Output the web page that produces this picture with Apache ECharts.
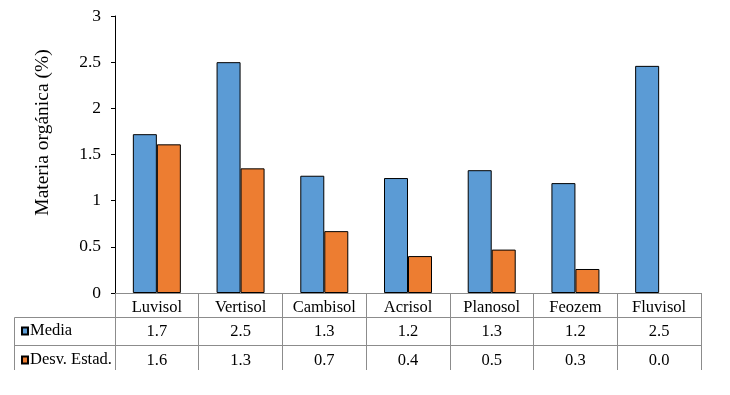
<!DOCTYPE html>
<html>
<head>
<meta charset="utf-8">
<script src="https://cdn.jsdelivr.net/npm/echarts@6/dist/echarts.min.js"></script>
<style>
html,body{margin:0;padding:0;background:#fff;}
#chart{width:730px;height:395px;}
</style>
</head>
<body>
<div id="chart"></div>
<script>
const categories = ['Luvisol', 'Vertisol', 'Cambisol', 'Acrisol', 'Planosol', 'Feozem', 'Fluvisol'];
const media = [1.72, 2.50, 1.27, 1.245, 1.33, 1.19, 2.46];
const desv = [1.61, 1.35, 0.67, 0.40, 0.47, 0.26, 0];
const mediaLabels = ['1.7', '2.5', '1.3', '1.2', '1.3', '1.2', '2.5'];
const desvLabels = ['1.6', '1.3', '0.7', '0.4', '0.5', '0.3', '0.0'];
const seriesNames = ['Media', 'Desv. Estad.'];
const yTitle = 'Materia orgánica (%)';

const FONT = '"Liberation Serif", "Times New Roman", serif';
const GRID = { left: 115, right: 29, top: 16, bottom: 102 };
const W = 730, H = 395;
const axisY = H - GRID.bottom;
const axisR = W - GRID.right;
const tableBottom = axisY + 77;
const tableLeft = 14.5;
const rowLines = [axisY + 24.5, axisY + 52.5];
const GREY = '#8c8c8c';

const chart = echarts.init(document.getElementById('chart'), null, { renderer: 'canvas' });

const labelStyle = { color: '#000', fontFamily: FONT, fontSize: 16.5 };

const lines = rowLines.map(y => ({
  type: 'line',
  shape: { x1: tableLeft, y1: y, x2: axisR + 0.5, y2: y },
  style: { stroke: GREY, lineWidth: 1 },
  silent: true
}));
lines.push({
  type: 'line',
  shape: { x1: tableLeft, y1: rowLines[0], x2: tableLeft, y2: tableBottom },
  style: { stroke: GREY, lineWidth: 1 },
  silent: true
});

chart.setOption({
  animation: false,
  backgroundColor: '#fff',
  grid: GRID,
  legend: {
    data: seriesNames,
    orient: 'vertical',
    left: 21,
    top: 322,
    padding: 0,
    itemWidth: 6,
    itemHeight: 7,
    itemGap: 11,
    icon: 'rect',
    selectedMode: false,
    textStyle: Object.assign({ lineHeight: 18, padding: [0, 0, 0, -3] }, labelStyle)
  },
  xAxis: [
    {
      type: 'category',
      data: categories,
      position: 'bottom',
      axisLine: { lineStyle: { color: GREY, width: 1 } },
      axisTick: { show: true, length: 77, interval: 0, lineStyle: { color: GREY, width: 1 } },
      axisLabel: Object.assign({ margin: 6, interval: 0 }, labelStyle),
      splitLine: { show: false }
    },
    {
      type: 'category',
      data: mediaLabels,
      position: 'bottom',
      offset: 24,
      axisLine: { show: false },
      axisTick: { show: false },
      axisLabel: Object.assign({ margin: 6, interval: 0 }, labelStyle)
    },
    {
      type: 'category',
      data: desvLabels,
      position: 'bottom',
      offset: 53,
      axisLine: { show: false },
      axisTick: { show: false },
      axisLabel: Object.assign({ margin: 6, interval: 0 }, labelStyle)
    }
  ],
  yAxis: {
    type: 'value',
    min: 0,
    max: 3,
    interval: 0.5,
    name: yTitle,
    nameLocation: 'middle',
    nameGap: 62,
    nameRotate: 90,
    nameTextStyle: { color: '#000', fontFamily: FONT, fontSize: 19.5, padding: [0, 0, 0, 44] },
    axisLine: { show: true, lineStyle: { color: '#000', width: 1 } },
    axisTick: { show: true, length: 4, lineStyle: { color: '#000', width: 1 } },
    axisLabel: Object.assign({ margin: 14 }, labelStyle, { fontSize: 17.5 }),
    splitLine: { show: false }
  },
  series: [
    {
      name: seriesNames[0],
      type: 'bar',
      xAxisIndex: 0,
      data: media,
      barWidth: 24,
      barGap: '0%',
      itemStyle: { color: '#5B9BD5', borderColor: '#000', borderWidth: 1 }
    },
    {
      name: seriesNames[1],
      type: 'bar',
      xAxisIndex: 0,
      data: desv.map(v => v === 0 ? { value: v, itemStyle: { borderWidth: 0 } } : v),
      barWidth: 24,
      barGap: '0%',
      itemStyle: { color: '#ED7D31', borderColor: '#000', borderWidth: 1 }
    }
  ],
  graphic: lines
});
</script>
</body>
</html>
